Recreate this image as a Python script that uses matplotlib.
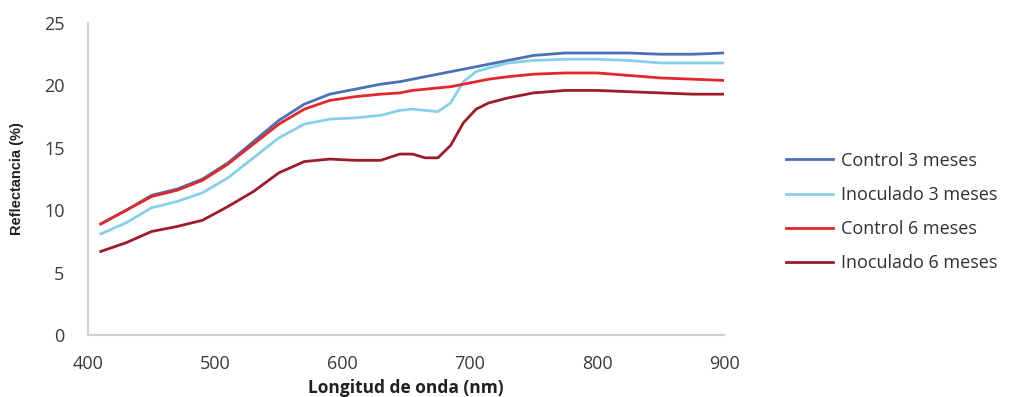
"""Reflectance spectra: control vs inoculated at 3 and 6 months."""
import matplotlib
matplotlib.use("Agg")
import matplotlib.pyplot as plt

# Data
wavelength = [410, 430, 450, 470, 490, 510, 530, 550, 570, 590, 610, 630, 645, 655,
              665, 675, 685, 695, 705, 715, 730, 750, 775, 800, 825, 850, 875, 900]
control_3 = [8.9, 10.0, 11.2, 11.7, 12.5, 13.8, 15.5, 17.2, 18.5, 19.3, 19.7, 20.1, 20.3, 20.5,
             20.7, 20.9, 21.1, 21.3, 21.5, 21.7, 22.0, 22.4, 22.6, 22.6, 22.6, 22.5, 22.5, 22.6]
inoculado_3 = [8.1, 9.0, 10.2, 10.7, 11.4, 12.6, 14.2, 15.8, 16.9, 17.3, 17.4, 17.6, 18.0, 18.1,
               18.0, 17.9, 18.6, 20.3, 21.1, 21.4, 21.8, 22.0, 22.1, 22.1, 22.0, 21.8, 21.8, 21.8]
control_6 = [8.9, 10.0, 11.1, 11.6, 12.4, 13.7, 15.3, 16.9, 18.1, 18.8, 19.1, 19.3, 19.4, 19.6,
             19.7, 19.8, 19.9, 20.1, 20.3, 20.5, 20.7, 20.9, 21.0, 21.0, 20.8, 20.6, 20.5, 20.4]
inoculado_6 = [6.7, 7.4, 8.3, 8.7, 9.2, 10.3, 11.5, 13.0, 13.9, 14.1, 14.0, 14.0, 14.5, 14.5,
               14.2, 14.2, 15.2, 17.0, 18.1, 18.6, 19.0, 19.4, 19.6, 19.6, 19.5, 19.4, 19.3, 19.3]

series = [
    ("Control 3 meses", control_3, "#4a70b5"),
    ("Inoculado 3 meses", inoculado_3, "#86d0ea"),
    ("Control 6 meses", control_6, "#e3282c"),
    ("Inoculado 6 meses", inoculado_6, "#9e1b2a"),
]

fig = plt.figure(figsize=(10.2, 3.97), dpi=100)
ax = fig.add_axes([0.0863, 0.156, 0.6237, 0.786])

for label, values, color in series:
    ax.plot(wavelength, values, color=color, linewidth=2.0, label=label)

ax.set_xlim(400, 900)
ax.set_ylim(0, 25)
ax.set_xticks([400, 500, 600, 700, 800, 900])
ax.set_yticks([0, 5, 10, 15, 20, 25])

for side in ["top", "right"]:
    ax.spines[side].set_visible(False)
for side in ["left", "bottom"]:
    ax.spines[side].set_color("#d0d0d0")
    ax.spines[side].set_linewidth(1.5)

ax.tick_params(axis="both", length=0, labelsize=13, labelcolor="#3a3a3a")
ax.tick_params(axis="x", pad=14)
ax.tick_params(axis="y", pad=17)
for lab in ax.get_xticklabels() + ax.get_yticklabels():
    lab.set_fontfamily(["Open Sans", "DejaVu Sans"])

ax.set_xlabel("Longitud de onda (nm)", fontsize=12.5, fontweight="bold",
              family=["Open Sans", "DejaVu Sans"], color="#202020", labelpad=5)
ax.set_ylabel("Reflectancia (%)", fontsize=10.5, fontweight="bold",
              family=["Liberation Sans Narrow", "Liberation Sans", "DejaVu Sans"],
              color="#202020", labelpad=14)

fig.legend(loc="center left", bbox_to_anchor=(0.755, 0.466), frameon=False,
           prop={"family": ["Open Sans", "DejaVu Sans"], "size": 13},
           handlelength=2.6, handletextpad=0.45, labelspacing=0.9, labelcolor="#303030")

fig.savefig("out.png", dpi=100)
